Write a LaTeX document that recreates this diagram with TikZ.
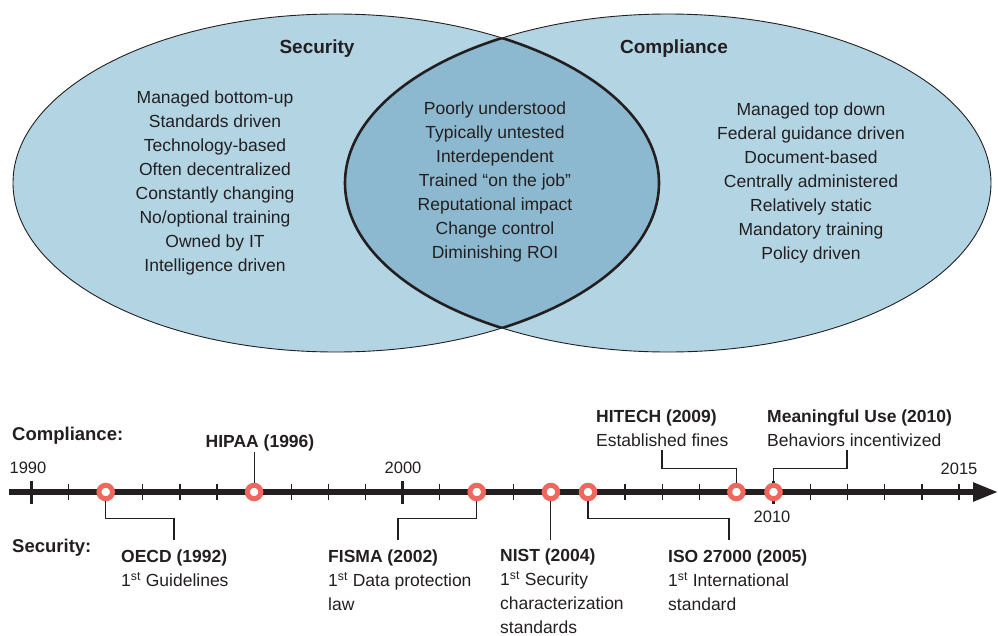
\documentclass[tikz,border=0pt]{standalone}
\usepackage{fontspec}
\setmainfont{Liberation Sans}
\usetikzlibrary{arrows.meta}
\definecolor{vennlight}{HTML}{B3D4E3}
\definecolor{venndark}{HTML}{8CB9CF}
\definecolor{markred}{HTML}{EF675D}
\definecolor{inkgray}{HTML}{231F20}

\begin{document}
\begin{tikzpicture}[
        x=1pt, y=-1pt,
        every node/.style={text=inkgray, inner sep=0pt},
        oval/.style={x radius=323, y radius=169},
        heading/.style={font=\fontsize{19}{24}\selectfont\bfseries, anchor=base},
        body/.style={font=\fontsize{17.5}{24}\selectfont, align=center, anchor=north},
        side/.style={font=\fontsize{18.5}{24}\selectfont\bfseries, anchor=base west},
        event/.style={font=\fontsize{17.5}{24}\selectfont, align=left, anchor=north west},
        year/.style={font=\fontsize{16.5}{20}\selectfont},
        ring/.style={circle, draw=markred, line width=5pt, fill=white, minimum size=13.5pt},
        lead/.style={draw=inkgray, line width=1.1pt},
        axis/.style={draw=inkgray, line width=5.5pt, -{Triangle[length=25pt, width=18pt]}},
        minortick/.style={draw=inkgray, line width=1.3pt},
        majortick/.style={draw=inkgray, line width=3pt}
    ]
        \useasboundingbox (0,0) rectangle (998,635);
        \coordinate (secc) at (336,183);
        \coordinate (compc) at (668,183);

        \fill[vennlight] (secc) ellipse [oval];
        \fill[vennlight] (compc) ellipse [oval];
        \begin{scope}
            \clip (secc) ellipse [oval];
            \fill[venndark] (compc) ellipse [oval];
            \draw[inkgray, line width=2.6pt] (compc) ellipse [oval];
        \end{scope}
        \begin{scope}
            \clip (compc) ellipse [oval];
            \draw[inkgray, line width=2.6pt] (secc) ellipse [oval];
        \end{scope}
        \draw[inkgray, line width=0.9pt] (secc) ellipse [oval];
        \draw[inkgray, line width=0.9pt] (compc) ellipse [oval];

        \node[heading] (sechead) at (317,53) {Security};
        \node[heading] (comphead) at (674,53) {Compliance};
        \node[body] (seclist) at (215,91) {Managed bottom-up\\Standards driven\\Technology-based\\Often decentralized\\Constantly changing\\No/optional training\\Owned by IT\\Intelligence driven};
        \node[body] (bothlist) at (495,102) {Poorly understood\\Typically untested\\Interdependent\\Trained “on the job”\\Reputational impact\\Change control\\Diminishing ROI};
        \node[body] (complist) at (811,103) {Managed top down\\Federal guidance driven\\Document-based\\Centrally administered\\Relatively static\\Mandatory training\\Policy driven};

        \coordinate (tstart) at (9,492);
        \coordinate (tend) at (998,492);
        \draw[axis] (tstart) -- (tend);
        \foreach \yr in {0,...,25}
            \draw[minortick] ({31.5+37.1*\yr},484) -- ({31.5+37.1*\yr},500);
        \foreach \yr in {0,10,20}
            \draw[majortick] ({31.5+37.1*\yr},481) -- ({31.5+37.1*\yr},504);

        \node[year] (y1990) at (28,468) {1990};
        \node[year] (y2000) at (403,468) {2000};
        \node[year] (y2010) at (772,517) {2010};
        \node[year] (y2015) at (959,469) {2015};

        \node[side] (complabel) at (12,440) {Compliance:};
        \node[side] (seclabel) at (12,552) {Security:};

        \node[ring] (e1992) at ({31.5+37.1*2},492) {};
        \node[ring] (e1996) at ({31.5+37.1*6},492) {};
        \node[ring] (e2002) at ({31.5+37.1*12},492) {};
        \node[ring] (e2004) at ({31.5+37.1*14},492) {};
        \node[ring] (e2005) at ({31.5+37.1*15},492) {};
        \node[ring] (e2009) at ({31.5+37.1*19},492) {};
        \node[ring] (e2010) at ({31.5+37.1*20},492) {};

        \node[event, anchor=north] (hipaa) at (260,435) {\textbf{HIPAA (1996)}};
        \node[event] (hitech) at (596,410) {\textbf{HITECH (2009)}\\Established fines};
        \node[event] (meaningful) at (767,410) {\textbf{Meaningful Use (2010)}\\Behaviors incentivized};
        \node[event] (oecd) at (121,550) {\textbf{OECD (1992)}\\1\textsuperscript{st} Guidelines};
        \node[event] (fisma) at (328,550) {\textbf{FISMA (2002)}\\1\textsuperscript{st} Data protection\\law};
        \node[event] (nist) at (500,549) {\textbf{NIST (2004)}\\1\textsuperscript{st} Security\\characterization\\standards};
        \node[event] (iso) at (668,550) {\textbf{ISO 27000 (2005)}\\1\textsuperscript{st} International\\standard};

        \coordinate (hitechfoot) at (662,450);
        \coordinate (meaningfulfoot) at (847,450);
        \coordinate (oecdhead) at (174,540);
        \coordinate (fismahead) at (398,540);
        \coordinate (nisthead) at (e2004 |- oecdhead);
        \coordinate (isohead) at (729,540);

        \draw[lead] (e1996.north) -- (e1996 |- hipaa.south);
        \draw[lead] (e2009.north) -- ++(0,-14) -| (hitechfoot);
        \draw[lead] (e2010.north) -- ++(0,-14) -| (meaningfulfoot);
        \draw[lead] (e1992.south) -- ++(0,17) -| (oecdhead);
        \draw[lead] (e2002.south) -- ++(0,17) -| (fismahead);
        \draw[lead] (e2004.south) -- (nisthead);
        \draw[lead] (e2005.south) -- ++(0,17) -| (isohead);
    \end{tikzpicture}
\end{document}
